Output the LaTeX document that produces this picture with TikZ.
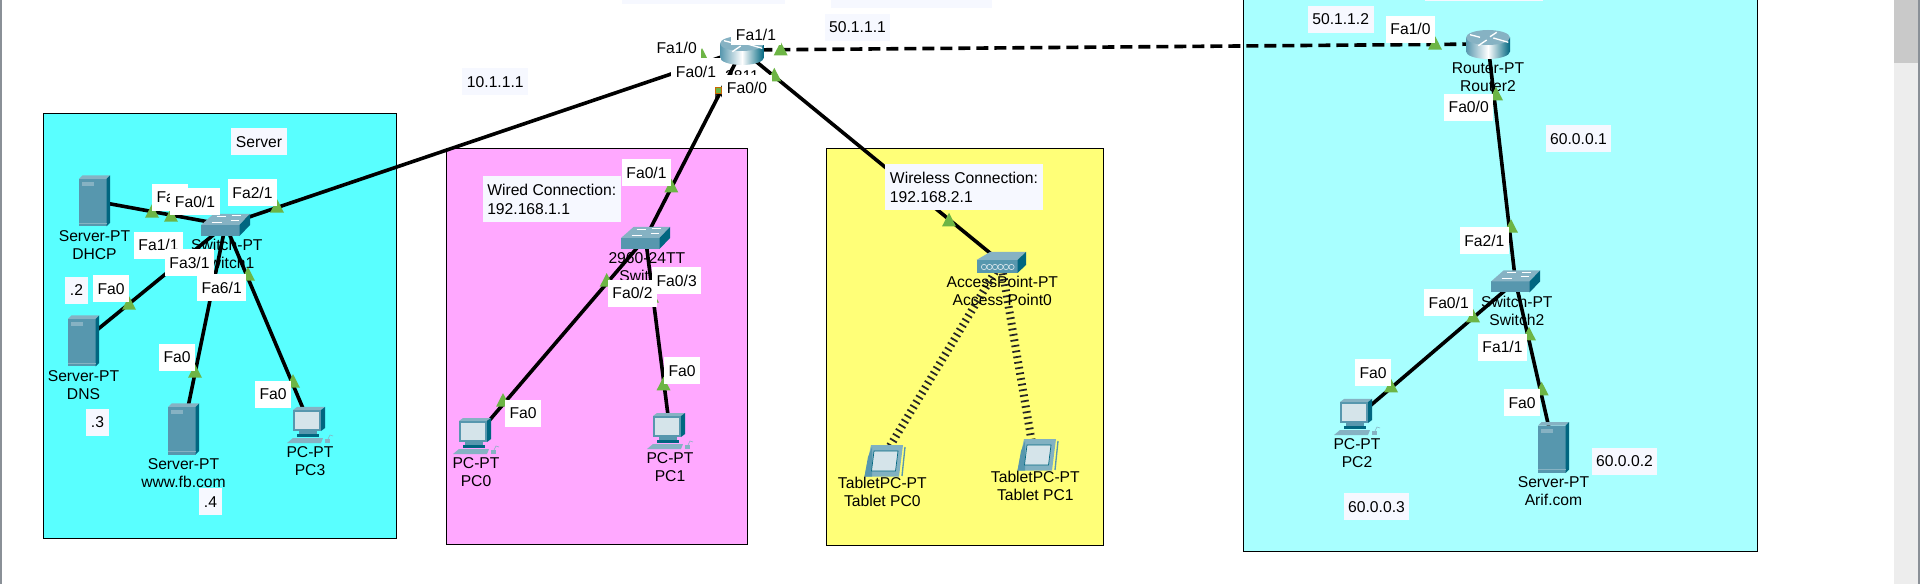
\documentclass[tikz,border=0pt]{standalone}
\usepackage{xcolor}
\usepackage{fontspec}
\setmainfont{Liberation Sans}
\usetikzlibrary{positioning, shapes.geometric}

\definecolor{servercyan}{HTML}{59FFFF}
\definecolor{lightcyan}{HTML}{A8FFFF}
\definecolor{wiredpink}{HTML}{FFA8FF}
\definecolor{wirelessyellow}{HTML}{FFFF78}
\definecolor{palenote}{HTML}{F6F8FF}
\definecolor{linkgreen}{HTML}{6DB545}
\definecolor{iconfront}{HTML}{5797AE}
\definecolor{icontop}{HTML}{86B2C3}
\definecolor{iconside}{HTML}{006680}
\definecolor{iconpale}{HTML}{D5E4EA}
\definecolor{edgegray}{HTML}{8A9097}

\tikzset{
    areabox/.style={draw=black, line width=0.7pt},
    cable/.style={draw=black, line width=2.7pt},
    wancable/.style={cable, dash pattern=on 9pt off 4.5pt},
    airlink/.style={draw=black!85, line width=6pt, dash pattern=on 1.3pt off 2.9pt},
    devnode/.style={inner sep=0pt, minimum size=0pt},
    devtext/.style={align=center, inner sep=0pt, font=\fontsize{11.75}{13.5}\selectfont},
    portlab/.style={fill=white, minimum height=20.25pt, inner ysep=0pt, inner xsep=3.4pt, font=\fontsize{11.75}{14.25}\selectfont},
    notelab/.style={portlab, fill=palenote, align=left},
    linkup/.style={isosceles triangle, shape border rotate=90, isosceles triangle stretches,
        minimum width=10.5pt, minimum height=10.25pt, inner sep=0pt, fill=linkgreen, anchor=lower side},
    serverpic/.pic={
        \fill[iconfront] (-15.5,-22) rectangle (12,25.5);
        \fill[icontop] (-15.5,-22) -- (-12,-25.5) -- (15.5,-25.5) -- (12,-22) -- cycle;
        \fill[iconside] (12,-22) -- (15.5,-25.5) -- (15.5,22) -- (12,25.5) -- cycle;
        \fill[icontop] (-13,-19) rectangle (-1,-15);
        \draw[icontop, line width=0.5pt] (-15.5,22) -- (12,22);
    },
    switchpic/.pic={
        \fill[iconfront] (-24.5,0) rectangle (14,11);
        \fill[icontop] (-24.5,0) -- (-12,-11) -- (24.5,-11) -- (14,0) -- cycle;
        \fill[iconside] (14,0) -- (24.5,-11) -- (24.5,0) -- (14,11) -- cycle;
        \draw[white, line width=0.6pt] (-9,-9) -- (0,-9) (6,-9.5) -- (15,-9.5) (-14,-3) -- (-4,-3) (5,-5) -- (13,-5);
    },
    routerpic/.pic={
        \shade[left color=iconfront, right color=iconside, middle color=white]
            (-22,-6.5) -- (-22,7.5) arc[start angle=180, end angle=360, x radius=16.5pt, y radius=5.625pt] -- (22,-6.5) -- cycle;
        \fill[icontop] (0,-6.5) ellipse [x radius=16.5pt, y radius=5.625pt];
        \draw[white, line width=1pt] (-18,-9.3) -- (-8,-6.7) (8.7,-11.7) -- (2,-7.3) (5.3,-6) -- (20.3,-1.7) (-1.3,-4) -- (-9.7,1.7);
    },
    pcpic/.pic={
        \fill[icontop] (-17,-15) -- (-13,-18) -- (15,-18) -- (11,-15) -- cycle;
        \fill[iconside] (11,-15) -- (15,-18) -- (15,3) -- (11,6) -- cycle;
        \fill[iconfront] (-17,-15) rectangle (11,6);
        \fill[iconpale] (-15,-13) rectangle (9,4);
        \fill[iconfront] (-11,6) rectangle (7,9);
        \fill[iconside] (-13,9) rectangle (9,11.5);
        \fill[icontop] (-17,13) -- (13,13) -- (11,18) -- (-23,18) -- cycle;
        \fill[icontop] (15,14) rectangle (20,18);
        \draw[icontop, line width=0.4pt] (18,14) -- (20,10) -- (23,11);
    },
    tabletpic/.pic={
        \fill[iconfront!75!white] (-16.5,15.5) -- (-10,-16) -- (22,-16) -- (18,15.5) -- cycle;
        \fill[iconfront] (-16.5,15.5) -- (-13,-4) -- (-9,-14) -- (-9,15.5) -- cycle;
        \fill[iconpale, draw=iconside, line width=0.5pt] (-7,-10) -- (17,-10) -- (14.5,10) -- (-9.5,10) -- cycle;
        \draw[iconfront, line width=1pt] (24,-14) -- (21,15);
    },
    appic/.pic={
        \fill[iconfront] (-24.5,-2) rectangle (16.5,11);
        \fill[icontop] (-24.5,-2) -- (-11,-10) -- (25,-10) -- (16.5,-2) -- cycle;
        \fill[iconside] (16.5,-2) -- (25,-10) -- (25,3) -- (16.5,11) -- cycle;
        \foreach \cx in {-17,-11.5,-6,-0.5,5,10.5}
            \draw[iconpale, line width=0.5pt] (\cx,5) circle (2pt);
    }
}

\begin{document}
\begin{tikzpicture}[x=0.75pt, y=-0.75pt]
    \useasboundingbox (0,0) rectangle (1920,584);
    \fill[white] (0,0) rectangle (1920,584);
    % window edges
    \fill[edgegray] (0,0) rectangle (2,584);
    \fill[black!7] (1894,0) rectangle (1918,584);
    \fill[black!21] (1894,0) rectangle (1918,63);
    \fill[edgegray] (1918,0) rectangle (1920,584);
    % areas
    \path[areabox, fill=servercyan] (43.5,113) rectangle (396,538);
    \path[areabox, fill=wiredpink] (446,148) rectangle (747,544);
    \path[areabox, fill=wirelessyellow] (826,148) rectangle (1103,545);
    \path[areabox, fill=lightcyan] (1243,-4) rectangle (1757,551);
    \fill[palenote] (622,0) rectangle (785,4.5);
    \fill[palenote] (831,0) rectangle (992,8.5);
    \fill[palenote] (1425,0) rectangle (1543,1);

    % devices
    \node[devnode] (router1) at (742,50) {};
    \node[devnode] (router2) at (1488,44) {};
    \node[devnode] (sw1) at (225.5,225) {};
    \node[devnode] (sw0) at (645.5,238) {};
    \node[devnode] (sw2) at (1515.5,281.5) {};
    \node[devnode] (ap0) at (1001,262) {};
    \node[devnode] (dhcp) at (94.5,201) {};
    \node[devnode] (dns) at (83.5,341) {};
    \node[devnode] (fb) at (183.5,429) {};
    \node[devnode] (arif) at (1553.5,447.5) {};
    \node[devnode] (pc0) at (476,436) {};
    \node[devnode] (pc1) at (670,431) {};
    \node[devnode] (pc2) at (1357,417) {};
    \node[devnode] (pc3) at (310,425) {};
    \node[devnode] (tab0) at (881,461) {};
    \node[devnode] (tab1) at (1034,455) {};

    % links
    \path[cable]
        (router1) edge (sw1)
                  edge (sw0)
                  edge (ap0)
        (sw1) edge (dhcp)
              edge (dns)
              edge (fb)
              edge (pc3)
        (sw0) edge (pc0)
              edge (pc1)
        (router2) edge (sw2)
        (sw2) edge (pc2)
              edge (arif);
    \draw[wancable] (router1) -- (router2);
    \draw[airlink] (ap0) -- (tab0);
    \draw[airlink] (ap0) -- (tab1);

    % icons
    \pic at (router1) {routerpic};
    \pic at (router2) {routerpic};
    \pic at (sw1) {switchpic};
    \pic at (sw0) {switchpic};
    \pic at (sw2) {switchpic};
    \pic at (ap0) {appic};
    \pic at (dhcp) {serverpic};
    \pic at (dns) {serverpic};
    \pic at (fb) {serverpic};
    \pic at (arif) {serverpic};
    \pic at (pc0) {pcpic};
    \pic at (pc1) {pcpic};
    \pic at (pc2) {pcpic};
    \pic at (pc3) {pcpic};
    \pic at (tab0) {tabletpic};
    \pic at (tab1) {tabletpic};

    % device names
    \node[devtext, below=15pt of router1] (router1txt) {2811\\Router1};
    \node[devtext, below=13.5pt of router2] (router2txt) {Router-PT\\Router2};
    \node[devtext, below=10.5pt of sw1, xshift=1pt] (sw1txt) {Switch-PT\\Switch1};
    \node[devtext, below=10.5pt of sw0, xshift=1pt] (sw0txt) {2960-24TT\\Switch0};
    \node[devtext, below=10.5pt of sw2, xshift=1pt] (sw2txt) {Switch-PT\\Switch2};
    \node[devtext, below=10.5pt of ap0, xshift=1pt] (ap0txt) {AccessPoint-PT\\Access Point0};
    \node[devtext, below=21.75pt of dhcp] (dhcptxt) {Server-PT\\DHCP};
    \node[devtext, below=21.75pt of dns] (dnstxt) {Server-PT\\DNS};
    \node[devtext, below=21.75pt of fb] (fbtxt) {Server-PT\\www.fb.com};
    \node[devtext, below=21.75pt of arif] (ariftxt) {Server-PT\\Arif.com};
    \node[devtext, below=15.75pt of pc0] (pc0txt) {PC-PT\\PC0};
    \node[devtext, below=15.75pt of pc1] (pc1txt) {PC-PT\\PC1};
    \node[devtext, below=15.75pt of pc2] (pc2txt) {PC-PT\\PC2};
    \node[devtext, below=15.75pt of pc3] (pc3txt) {PC-PT\\PC3};
    \node[devtext, below=12pt of tab0, xshift=1pt] (tab0txt) {TabletPC-PT\\Tablet PC0};
    \node[devtext, below=12pt of tab1, xshift=1pt] (tab1txt) {TabletPC-PT\\Tablet PC1};

    % link lights
    \foreach \tx/\ty [count=\ti] in {152/218, 171/222, 277/213, 248/281, 129/310, 195/378, 293/388,
            702/62, 727/90, 780.7/55.7, 774.3/81.7, 671.3/192.7, 606.7/287, 652/303, 503/407, 663.5/390.7,
            949/226.7, 1435/50, 1496/100.7, 1511/233, 1473/322.7, 1529/340.7, 1391/392.7, 1541.7/395.7}
        \node[linkup] (light\ti) at (\tx,\ty) {};
    \node[draw=orange!80!black, fill=linkgreen, line width=0.5pt, inner sep=0pt, minimum size=4.5pt] (square1) at (718.3,90) {};

    % port names
    \node[portlab] (p1) at (170,197.5) {Fa0};
    \node[portlab] (p2) at (195,201.5) {Fa0/1};
    \node[portlab] (p3) at (252.5,192.5) {Fa2/1};
    \node[portlab] (p4) at (158.5,245.3) {Fa1/1};
    \node[portlab] (p5) at (189.5,263) {Fa3/1};
    \node[portlab] (p6) at (221.7,287.5) {Fa6/1};
    \node[portlab] (p7) at (111,289) {Fa0};
    \node[portlab] (p8) at (177,357.3) {Fa0};
    \node[portlab] (p9) at (273,394.3) {Fa0};
    \node[portlab] (p10) at (676.7,48.3) {Fa1/0};
    \node[portlab] (p11) at (696,72) {Fa0/1};
    \node[portlab] (p12) at (747,88.3) {Fa0/0};
    \node[portlab, minimum height=15pt] (p13) at (756,35) {Fa1/1};
    \node[portlab] (p14) at (646.5,172.7) {Fa0/1};
    \node[portlab] (p15) at (676.7,280.7) {Fa0/3};
    \node[portlab] (p16) at (632.5,293.3) {Fa0/2};
    \node[portlab] (p17) at (523,413.3) {Fa0};
    \node[portlab] (p18) at (682,370.7) {Fa0};
    \node[portlab] (p19) at (1410.5,29.3) {Fa1/0};
    \node[portlab] (p20) at (1468.7,107.3) {Fa0/0};
    \node[portlab] (p21) at (1484.3,240.7) {Fa2/1};
    \node[portlab] (p22) at (1448.7,302.7) {Fa0/1};
    \node[portlab] (p23) at (1502.5,347.3) {Fa1/1};
    \node[portlab] (p24) at (1373,372.7) {Fa0};
    \node[portlab] (p25) at (1522,402.7) {Fa0};

    % notes
    \node[notelab] (serverlab) at (259,141.7) {Server};
    \node[notelab] (dot2) at (76.5,290.3) {.2};
    \node[notelab] (dot3) at (97.5,422.3) {.3};
    \node[notelab] (dot4) at (210.5,501.7) {.4};
    \node[notelab] (ip10) at (495.3,81.7) {10.1.1.1};
    \node[notelab] (ip50a) at (857.5,27.5) {50.1.1.1};
    \node[notelab] (ip50b) at (1340.7,19.3) {50.1.1.2};
    \node[notelab] (ip601) at (1578.5,138.7) {60.0.0.1};
    \node[notelab] (ip602) at (1624.5,461.5) {60.0.0.2};
    \node[notelab] (ip603) at (1376.5,506.7) {60.0.0.3};
    \node[notelab, minimum height=34.5pt] (wiredlab) at (551.7,199) {Wired Connection:\\192.168.1.1};
    \node[notelab, minimum height=34.5pt] (wirelesslab) at (964,187) {Wireless Connection:\\192.168.2.1};
\end{tikzpicture}
\end{document}
